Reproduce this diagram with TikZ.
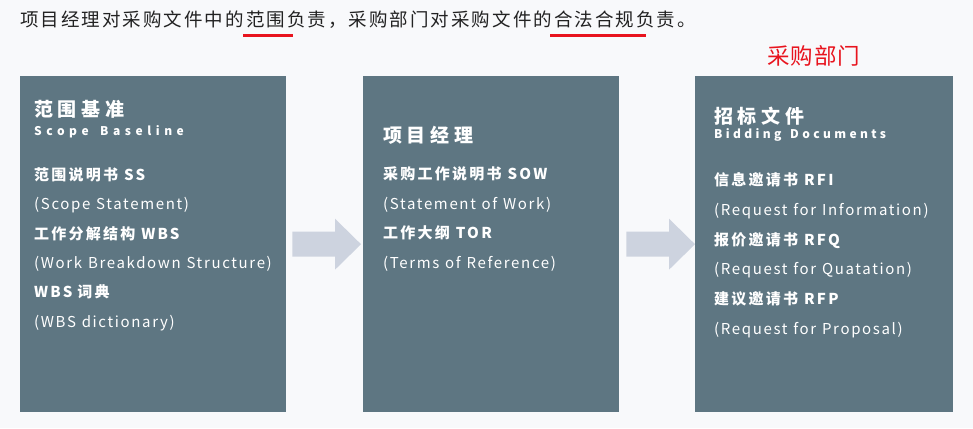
\documentclass[tikz,border=0pt]{standalone}
\usepackage{fontspec}
\setmainfont{Noto Sans CJK SC}
\usetikzlibrary{calc}
\definecolor{bg}{HTML}{F8F9FB}
\definecolor{boxc}{HTML}{5E7682}
\definecolor{arrc}{HTML}{CDD3DF}
\definecolor{titc}{HTML}{222222}
\definecolor{redc}{HTML}{E8141E}
\newcommand\fhead{\fontsize{19}{22}\selectfont\bfseries\addfontfeature{LetterSpace=25}}
\newcommand\fsub[1]{\fontsize{12}{14}\selectfont\bfseries\addfontfeature{LetterSpace=#1}}
\newcommand\fbold{\fontsize{15}{18}\selectfont\bfseries\addfontfeature{LetterSpace=15}}
\newcommand\fbody{\fontsize{15}{18}\selectfont\addfontfeature{LetterSpace=11}\fontdimen2\font=5.8pt\relax}
\begin{document}
\begin{tikzpicture}[x=1pt,y=-1pt,
  box/.style={fill=boxc,draw=none,anchor=north west,inner sep=0,minimum width=#1,minimum height=336},
  txt/.style={anchor=base west,inner sep=0,text=white},
  arr/.style={fill=arrc,draw=none},
  uline/.style={draw=redc,line width=2.5pt}]
\useasboundingbox[fill=bg] (0,0) rectangle (973,428);
% title
\node[anchor=base west,inner sep=0,text=titc] (title) at (20,27)
  {\fontsize{18.5}{22}\selectfont\addfontfeature{LetterSpace=11}项目经理对采购文件中的范围负责，采购部门对采购文件的合法合规负责。};
\coordinate (u1a) at (243,35.5); \coordinate (u1b) at (293,35.5);
\coordinate (u2a) at (550,35.5); \coordinate (u2b) at (646,35.5);
\draw[uline] (u1a) -- (u1b);
\draw[uline] (u2a) -- (u2b);
\node[anchor=base west,inner sep=0,text=redc] (dept) at (767,64.5)
  {\fontsize{22.5}{26}\selectfont\addfontfeature{LetterSpace=4}采购部门};
% boxes
\node[box=266] (b1) at (20,76) {};
\node[box=256] (b2) at (363,76) {};
\node[box=258] (b3) at (695,76) {};
% arrows
\coordinate (a1s) at ($(b1.east)+(6,0)$);
\coordinate (a1t) at ($(b2.west)+(-2,0)$);
\fill[arr] ($(a1s)+(0,-12.5)$) -- ($(a1t)+(-26,-12.5)$) -- ($(a1t)+(-26,-25.5)$) -- (a1t)
  -- ($(a1t)+(-26,25.5)$) -- ($(a1t)+(-26,12.5)$) -- ($(a1s)+(0,12.5)$) -- cycle;
\coordinate (a2s) at ($(b2.east)+(7,0)$);
\coordinate (a2t) at (b3.west);
\fill[arr] ($(a2s)+(0,-12.5)$) -- ($(a2t)+(-26,-12.5)$) -- ($(a2t)+(-26,-25.5)$) -- (a2t)
  -- ($(a2t)+(-26,25.5)$) -- ($(a2t)+(-26,12.5)$) -- ($(a2s)+(0,12.5)$) -- cycle;
% box 1 text
\node[txt] (t1h) at (34,116) {\fhead 范围基准};
\node[txt] (t1s) at (34,135) {\fsub{38}Scope};
\node[txt] (t1s2) at (100,135) {\fsub{38}Baseline};
\node[txt] (t1a) at (34,180.5) {\fbold 范围说明书};
\node[txt] (t1a2) at ($(t1a.base east)+(5.5,0)$) {\fbold SS};
\node[txt] (t1b) at (34,209.8) {\fbody (Scope Statement)};
\node[txt] (t1c) at (34,239.1) {\fbold 工作分解结构};
\node[txt] (t1c2) at ($(t1c.base east)+(5.5,0)$) {\fbold WBS};
\node[txt] (t1d) at (34,268.4) {\fbody (Work Breakdown Structure)};
\node[txt] (t1e) at (34,297.7) {\fbold WBS};
\node[txt] (t1e2) at ($(t1e.base east)+(4.5,0)$) {\fbold 词典};
\node[txt] (t1f) at (34,327) {\fbody (WBS dictionary)};
% box 2 text
\node[txt] (t2h) at (383,142) {\fhead 项目经理};
\node[txt] (t2a) at (383,179.5) {\fbold 采购工作说明书};
\node[txt] (t2a2) at ($(t2a.base east)+(5.5,0)$) {\fbold SOW};
\node[txt] (t2b) at (383,209) {\fbody (Statement of Work)};
\node[txt] (t2c) at (383,238.5) {\fbold 工作大纲};
\node[txt] (t2c2) at ($(t2c.base east)+(5.5,0)$) {\fbold TOR};
\node[txt] (t2d) at (383,268) {\fbody (Terms of Reference)};
% box 3 text
\node[txt] (t3h) at (714,123) {\fhead 招标文件};
\node[txt] (t3s) at (714,138) {\fsub{28}Bidding};
\node[txt] (t3s2) at (790,138) {\fsub{28}Documents};
\node[txt] (t3a) at (714,185.5) {\fbold 信息邀请书};
\node[txt] (t3a2) at ($(t3a.base east)+(5.5,0)$) {\fbold RFI};
\node[txt] (t3b) at (714,215.3) {\fbody (Request for Information)};
\node[txt] (t3c) at (714,245) {\fbold 报价邀请书};
\node[txt] (t3c2) at ($(t3c.base east)+(5.5,0)$) {\fbold RFQ};
\node[txt] (t3d) at (714,274.8) {\fbody (Request for Quatation)};
\node[txt] (t3e) at (714,304.5) {\fbold 建议邀请书};
\node[txt] (t3e2) at ($(t3e.base east)+(5.5,0)$) {\fbold RFP};
\node[txt] (t3f) at (714,334.3) {\fbody (Request for Proposal)};
\end{tikzpicture}
\end{document}
